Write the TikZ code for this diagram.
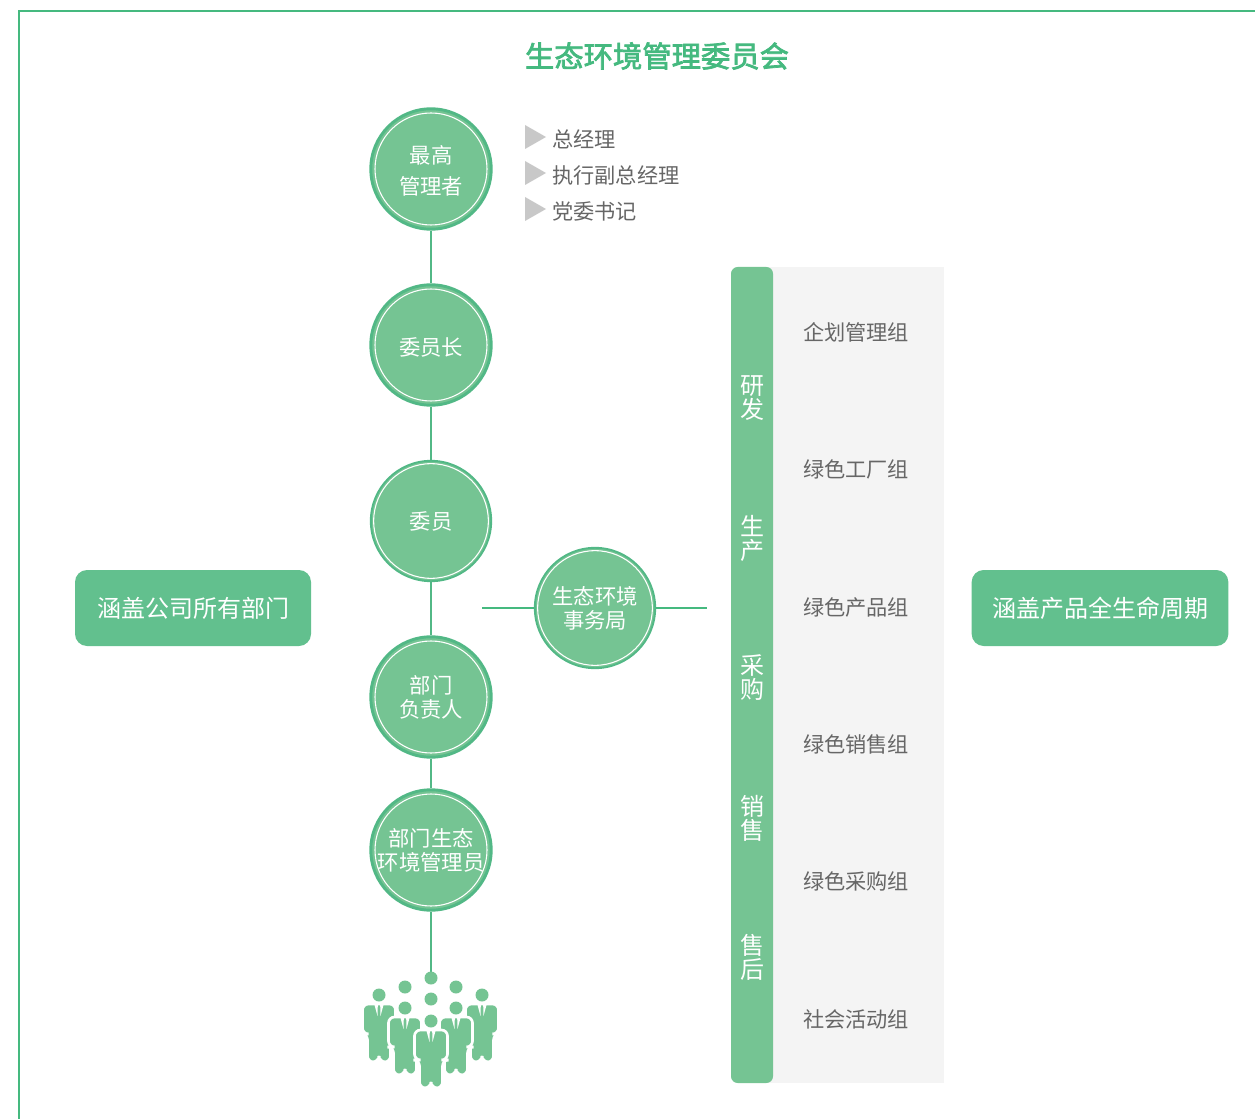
\documentclass[tikz,border=0pt]{standalone}
\usepackage{fontspec}
\setmainfont{Noto Sans CJK SC}
\newfontfamily\titlefont[FakeBold=2.5]{Noto Sans CJK SC}
\definecolor{leafgreen}{HTML}{75C493}
\definecolor{ringgreen}{HTML}{52B886}
\definecolor{framegreen}{HTML}{45B97F}
\definecolor{taggreen}{HTML}{62C08E}
\definecolor{inkgray}{HTML}{666666}
\definecolor{palegray}{HTML}{F4F4F4}
\definecolor{markgray}{HTML}{C8C8C8}
\tikzset{
  role/.style={circle,fill=leafgreen,draw=ringgreen,line width=2.2pt,minimum size=90.3pt,inner sep=0pt,
    text=white,font=\fontsize{16}{18}\selectfont,align=center,
    path picture={\draw[white,line width=0.8pt] (path picture bounding box.center) circle (42pt);}},
  thinring/.style={line width=1.4pt,
    path picture={\draw[white,line width=0.8pt] (path picture bounding box.center) circle (43pt);}},
  banner/.style={rectangle,rounded corners=9pt,fill=taggreen,text=white,minimum height=57pt,
    font=\fontsize{18}{20}\selectfont},
  rowtext/.style={text=inkgray,font=\fontsize{15.9}{18}\selectfont,inner sep=0pt},
  link/.style={ringgreen,line width=2.2pt},
  person/.pic={
    \fill[leafgreen] (0,0) circle (6.5);
    \filldraw[fill=leafgreen,draw=white,line width=2pt,rounded corners=4.5pt]
      (-16.5,9) -- (16.5,9) -- (16.5,39) -- (11.5,39) -- (11.5,67) -- (0.6,67) -- (0,63) -- (-0.6,67)
      -- (-11.5,67) -- (-11.5,39) -- (-16.5,39) -- cycle;
    \fill[white] (-4.5,10) -- (-1.2,10) -- (-1.5,21) -- cycle;
    \fill[white] (4.5,10) -- (1.2,10) -- (1.5,21) -- cycle;
  }
}
\begin{document}
\begin{tikzpicture}[x=0.75pt,y=-0.75pt]
  \useasboundingbox (0,0) rectangle (1255,1119);
  \draw[framegreen,line width=1.9pt] (1255,11) -| (19,1119);
  \node[text=framegreen,font=\titlefont\fontsize{22}{24}\selectfont] (title) at (657,56) {生态环境管理委员会};

  % panel and bar
  \fill[palegray] (760,267) rectangle (944,1083);
  \fill[leafgreen,rounded corners=5pt] (731,267) rectangle (773,1083);
  \foreach \name/\y/\txt in {rd/398/研\\发,make/538/生\\产,buy/678/采\\购,sell/818/销\\售,after/957/售\\后}
    \node[text=white,align=center,inner sep=0pt,font=\fontsize{18}{18}\selectfont] (\name) at (752,\y) {\txt};
  \foreach \name/\y/\txt in {plan/332/企划管理组,plant/469/绿色工厂组,goods/607/绿色产品组,sales/744/绿色销售组,supply/881/绿色采购组,social/1019/社会活动组}
    \node[rowtext] (\name) at (856,\y) {\txt};

  % chain
  \coordinate (crowdtop) at (431,972);
  \node[role] (boss) at (431,169) {\rule{0pt}{16pt}最高\\[5pt]管理者};
  \node[role] (chair) at (431,345) {\rule{0pt}{17pt}委员长};
  \node[role,thinring] (member) at (431,521) {委员};
  \node[role] (head) at (431,697) {部门\\负责人};
  \node[role] (staff) at (431,850) {部门生态\\环境管理员};
  \draw[link] (boss) to (chair);
  \draw[link] (chair) to (member);
  \draw[link] (member) to (head);
  \draw[link] (head) to (staff);
  \draw[link] (staff) to (crowdtop);

  % office
  \coordinate (officeL) at (482,608);
  \coordinate (officeR) at (707,608);
  \node[role,thinring] (office) at (595,608) {生态环境\\事务局};
  \draw[link,framegreen] (officeL) to (office);
  \draw[link,framegreen] (office) to (officeR);

  % titles at the top
  \foreach \name/\y/\txt in {gm/137/总经理,vice/173/执行副总经理,party/209/党委书记}{
    \fill[markgray] (525,\y-12) -- (546,\y) -- (525,\y+12) -- cycle;
    \node[rowtext,anchor=west] (\name) at (552,\y+2) {\txt};
  }

  \node[banner,minimum width=177pt] (leftbox) at (193,608) {涵盖公司所有部门};
  \node[banner,minimum width=192.5pt] (rightbox) at (1100,608) {涵盖产品全生命周期};

  % crowd
  \foreach \x/\y in {431/978,431/999,405/987,456/987}
    \fill[leafgreen] (\x,\y) circle (6.5);
  \pic at (379,995) {person};
  \pic at (482,995) {person};
  \pic at (405,1008) {person};
  \pic at (456,1008) {person};
  \pic at (431,1021) {person};
\end{tikzpicture}
\end{document}
